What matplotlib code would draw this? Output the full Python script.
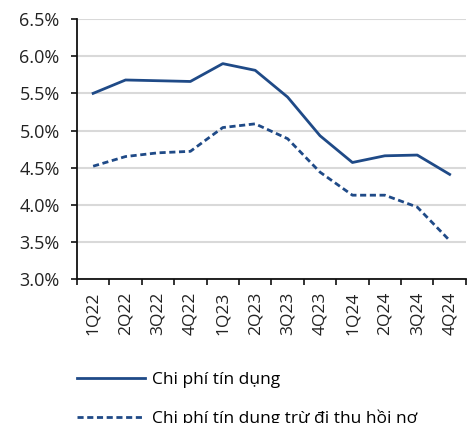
import matplotlib.pyplot as plt
from matplotlib.lines import Line2D

quarters = ["1Q22", "2Q22", "3Q22", "4Q22", "1Q23", "2Q23", "3Q23", "4Q23",
            "1Q24", "2Q24", "3Q24", "4Q24"]
credit_cost = [5.50, 5.68, 5.67, 5.66, 5.90, 5.81, 5.45, 4.93, 4.57, 4.66, 4.67, 4.41]
credit_cost_net = [4.52, 4.65, 4.70, 4.72, 5.04, 5.09, 4.89, 4.44, 4.13, 4.13, 3.97, 3.52]
yticks = [3.0, 3.5, 4.0, 4.5, 5.0, 5.5, 6.0, 6.5]

plt.rcParams['font.family'] = ['Open Sans', 'DejaVu Sans']
color = '#1f4a87'
dash = (0, (2.2, 1.3))

fig = plt.figure(figsize=(4.72, 4.23), dpi=100)
ax = fig.add_axes([0.163, 0.340, 0.824, 0.615])

x = list(range(len(quarters)))
ax.plot(x, credit_cost, color=color, lw=2, label='Chi phí tín dụng')
ax.plot(x, credit_cost_net, color=color, lw=2, ls=dash,
        label='Chi phí tín dụng trừ đi thu hồi nợ')

ax.set_ylim(3.0, 6.5)
ax.set_yticks(yticks)
ax.set_yticklabels([f"{v:.1f}%" for v in yticks], fontsize=13, color='#222222')
ax.tick_params(axis='y', length=4.5, width=1.2, pad=8, color='#111111')
ax.yaxis.grid(True, color='#d9d9d9', lw=1.5)
ax.set_axisbelow(True)

ax.set_xlim(-0.5, len(quarters) - 0.5)
ax.set_xticks([i - 0.5 for i in range(len(quarters) + 1)])
ax.set_xticklabels([])
ax.set_xticks(x, minor=True)
ax.set_xticklabels(quarters, minor=True, rotation=90, fontsize=12.5, color='#222222')
ax.tick_params(axis='x', which='major', direction='out', length=4.5, width=1.2, color='#111111')
ax.tick_params(axis='x', which='minor', length=0, pad=9)

for s in ['top', 'right']:
    ax.spines[s].set_visible(False)
for s in ['left', 'bottom']:
    ax.spines[s].set_linewidth(1.3)
    ax.spines[s].set_color('#111111')

handles = [Line2D([], [], color=color, lw=2),
           Line2D([], [], color=color, lw=2, ls=dash)]
fig.legend(handles, ['Chi phí tín dụng', 'Chi phí tín dụng trừ đi thu hồi nợ'],
           loc='upper left', bbox_to_anchor=(0.163, 0.121), frameon=False,
           fontsize=12.5, handlelength=3.9, handletextpad=0.45, labelspacing=1.25,
           borderaxespad=0, borderpad=0)

fig.savefig('out.png', dpi=100)
